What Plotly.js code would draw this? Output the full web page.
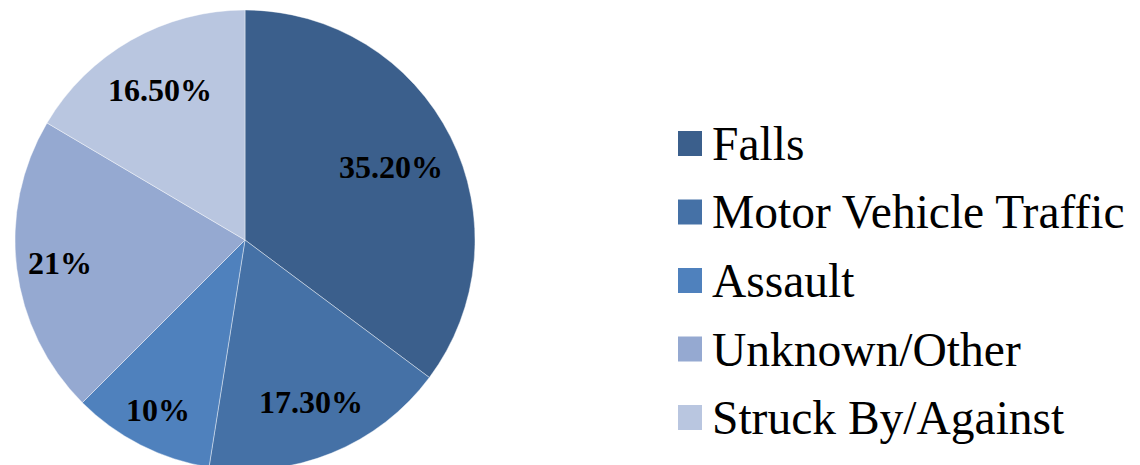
<!DOCTYPE html>
<html>
<head>
<meta charset="utf-8">
<script src="https://cdn.plot.ly/plotly-3.0.1.min.js"></script>
<style>html,body{margin:0;padding:0;overflow:hidden;background:#fff;}</style>
</head>
<body>
<div id="chart" style="width:1140px;height:480px;"></div>
<script>
const categories = ["Falls", "Motor Vehicle Traffic", "Assault", "Unknown/Other", "Struck By/Against"];
const values = [35.2, 17.3, 10, 21, 16.5];
const sliceLabels = ["35.20%", "17.30%", "10%", "21%", "16.50%"];
const colors = ["#3B5F8C", "#4571A6", "#4F81BD", "#95A9D1", "#B9C6E0"];

const SERIF = "Times New Roman, Liberation Serif, Tinos, DejaVu Serif, serif";
const W = 1140, H = 480;
const px = x => x / W;
const py = y => 1 - y / H;

// pie geometry (pixels)
const CX = 245, CY = 240, R = 230;
// radial position of each slice label, as a fraction of the radius (layout only)
const labelRadius = [0.71, 0.76, 0.83, 0.81, 0.75];

const trace = {
  type: "pie",
  labels: categories,
  values: values,
  textinfo: "none",
  sort: false,
  direction: "clockwise",
  rotation: 0,
  marker: { colors: colors, line: { color: "rgba(255,255,255,0.6)", width: 0.7 } },
  domain: { x: [px(CX - R), px(CX + R)], y: [py(CY + R), py(CY - R)] },
  hoverinfo: "label+percent",
  showlegend: false
};

const shapes = [], annotations = [];

// slice labels: placed on each slice's mid-angle, derived from the values
const total = values.reduce((a, b) => a + b, 0);
let cum = 0;
values.forEach((v, i) => {
  const mid = (cum + v / 2) / total * 2 * Math.PI;
  cum += v;
  const r = labelRadius[i] * R;
  annotations.push({
    xref: "paper", yref: "paper",
    x: px(CX + r * Math.sin(mid)), y: py(CY - r * Math.cos(mid)),
    xanchor: "center", yanchor: "middle", showarrow: false,
    text: "<b>" + sliceLabels[i] + "</b>",
    font: { family: SERIF, size: 32, color: "#000" }
  });
});

// legend built from the category/colour arrays
const legTop = 143.5, legStep = 68.5;
categories.forEach((c, i) => {
  const cy = legTop + i * legStep;
  shapes.push({
    type: "rect", xref: "paper", yref: "paper",
    x0: px(678), x1: px(702), y0: py(cy + 12.5), y1: py(cy - 12.5),
    fillcolor: colors[i], line: { width: 0 }
  });
  annotations.push({
    xref: "paper", yref: "paper", x: px(710), y: py(cy + 0.5),
    xanchor: "left", yanchor: "middle", showarrow: false,
    text: c, font: { family: SERIF, size: 47.5, color: "#000" }
  });
});

const layout = {
  width: W, height: H,
  margin: { l: 0, r: 0, t: 0, b: 0 },
  paper_bgcolor: "#fff",
  showlegend: false,
  font: { family: SERIF },
  shapes: shapes,
  annotations: annotations
};

Plotly.newPlot("chart", [trace], layout, { displayModeBar: false, staticPlot: true });
</script>
</body>
</html>
